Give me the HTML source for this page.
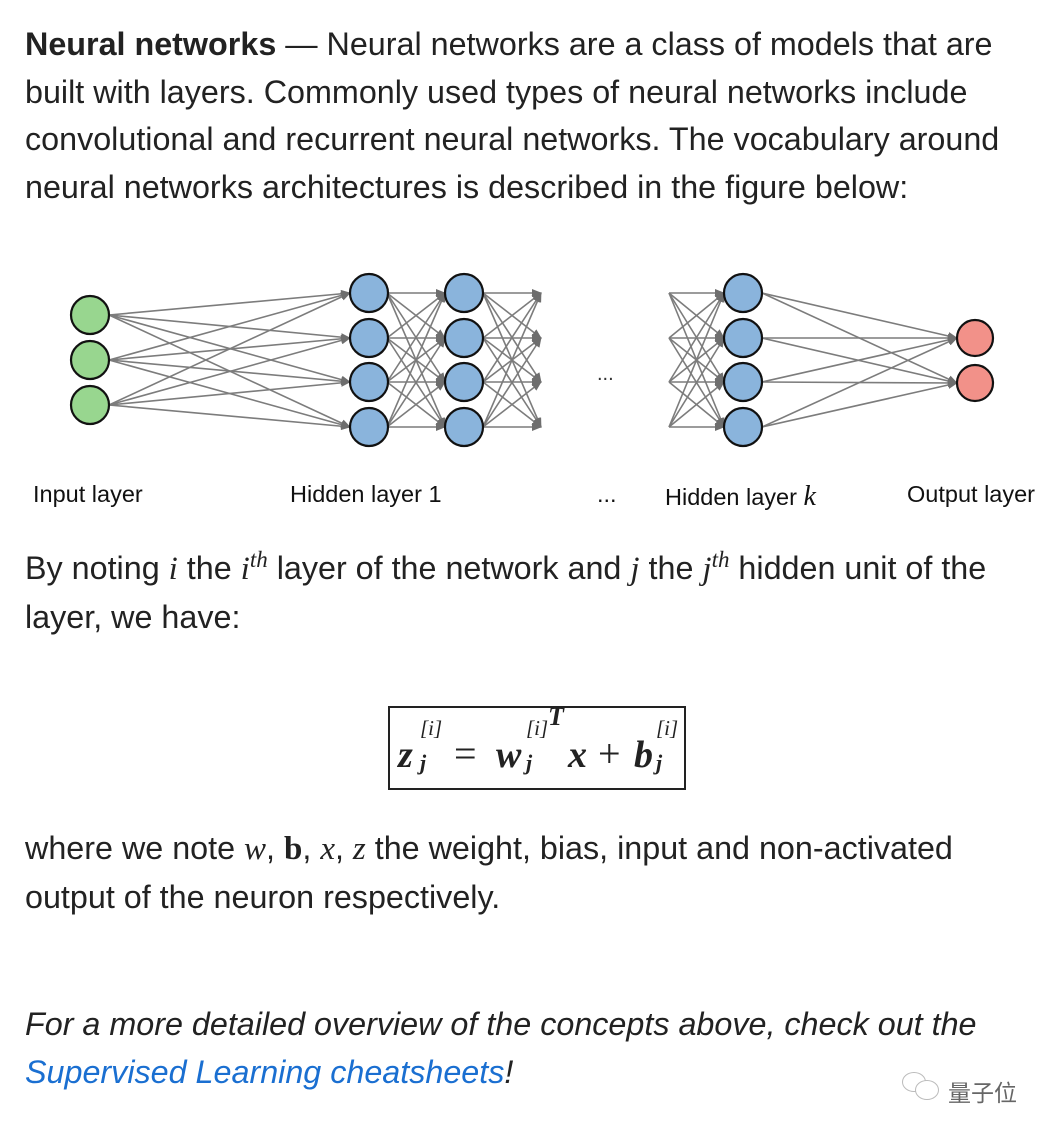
<!DOCTYPE html>
<html><head><meta charset="utf-8"><style>
body{margin:0;background:#fff;width:1060px;height:1138px;position:relative;overflow:hidden;font-family:"Liberation Sans",Arial,sans-serif;color:#222}
.p{position:absolute;left:25px;font-size:32.3px;line-height:47.5px;white-space:nowrap}
.m{font-family:"Liberation Serif",serif;font-style:italic;font-size:33px}
.lbl{position:absolute;font-size:23.5px;top:481px;color:#111}
sup{font-size:23px;line-height:0}
.f span{position:absolute}
</style></head><body>
<div class="p" style="top:21px"><b>Neural networks</b> — Neural networks are a class of models that are<br>built with layers. Commonly used types of neural networks include<br>convolutional and recurrent neural networks. The vocabulary around<br>neural networks architectures is described in the figure below:</div>
<svg id="s" width="1060" height="470" style="position:absolute;left:0;top:0">
<defs><marker id="a" markerWidth="10" markerHeight="8" refX="9" refY="4" orient="auto" markerUnits="userSpaceOnUse"><path d="M0,0L10,4L0,8z" fill="#555"/></marker></defs>
<g id="L" stroke="#666" stroke-width="1.6" opacity="0.85"></g><g id="N" stroke="#111" stroke-width="2.2"></g>
<text x="597" y="380" font-size="20" fill="#333" font-family="Liberation Sans">...</text>
</svg>
<script>
var L=document.getElementById('L'),N=document.getElementById('N'),ns='http://www.w3.org/2000/svg';
function line(x1,y1,x2,y2){var l=document.createElementNS(ns,'line');l.setAttribute('x1',x1);l.setAttribute('y1',y1);l.setAttribute('x2',x2);l.setAttribute('y2',y2);l.setAttribute('marker-end','url(#a)');L.appendChild(l);}
function circ(x,y,r,f){var c=document.createElementNS(ns,'circle');c.setAttribute('cx',x);c.setAttribute('cy',y);c.setAttribute('r',r);c.setAttribute('fill',f);N.appendChild(c);}
var inp=[315,360,405],h=[293,338,382,427],out=[338,383];
inp.forEach(function(a){h.forEach(function(b){line(109,a,350,b);});});
h.forEach(function(a){h.forEach(function(b){line(387,a,445,b);line(483,a,541,b);line(669,a,724,b);});});
h.forEach(function(a){out.forEach(function(b){line(762,a,957,b);});});
inp.forEach(function(y){circ(90,y,19,'#98d68f');});
h.forEach(function(y){circ(369,y,19,'#8ab4dc');circ(464,y,19,'#8ab4dc');circ(743,y,19,'#8ab4dc');});
out.forEach(function(y){circ(975,y,18,'#f29189');});
</script>
<div class="lbl" style="left:33px">Input layer</div>
<div class="lbl" style="left:290px">Hidden layer 1</div>
<div class="lbl" style="left:597px">...</div>
<div class="lbl" style="left:665px">Hidden layer <span class="m" style="font-size:28px">k</span></div>
<div class="lbl" style="left:907px">Output layer</div>
<div class="p" style="top:545px">By noting <span class="m">i</span> the <span class="m">i<sup>th</sup></span> layer of the network and <span class="m">j</span> the <span class="m">j<sup>th</sup></span> hidden unit of the<br>layer, we have:</div>
<div class="f" style="position:absolute;left:388px;top:706px;width:294px;height:80px;border:2px solid #222;font-family:'Liberation Serif',serif;font-size:38px;font-style:italic;font-weight:bold;white-space:nowrap;line-height:1">
<span style="left:8px;top:28px">z</span><span style="left:30px;top:10px;font-size:21px;font-weight:normal">[i]</span><span style="left:30px;top:44px;font-size:22px">j</span>
<span style="left:64px;top:26px;font-style:normal;font-weight:normal;font-size:40px">=</span>
<span style="left:106px;top:28px">w</span><span style="left:136px;top:10px;font-size:21px;font-weight:normal">[i]</span><span style="left:136px;top:44px;font-size:22px">j</span><span style="left:158px;top:-4px;font-size:26px">T</span>
<span style="left:178px;top:28px">x</span>
<span style="left:208px;top:26px;font-style:normal;font-weight:normal;font-size:40px">+</span>
<span style="left:244px;top:28px">b</span><span style="left:266px;top:10px;font-size:21px;font-weight:normal">[i]</span><span style="left:266px;top:44px;font-size:22px">j</span>
</div>
<div class="p" style="top:825px">where we note <span class="m">w</span>, <span class="m" style="font-style:normal;font-weight:bold">b</span>, <span class="m">x</span>, <span class="m">z</span> the weight, bias, input and non-activated<br>output of the neuron respectively.</div>
<div class="p" style="top:1001px;font-style:italic">For a more detailed overview of the concepts above, check out the<br><span style="color:#1a6fd1">Supervised Learning cheatsheets</span>!</div>
<div style="position:absolute;left:902px;top:1072px;width:22px;height:18px;border:1.5px solid #bbb;border-radius:50%"></div>
<div style="position:absolute;left:915px;top:1080px;width:22px;height:18px;border:1.5px solid #bbb;border-radius:50%;background:#fff"></div>
<div style="position:absolute;left:948px;top:1074px;font-size:23px;color:#666;font-family:'Liberation Sans','Noto Sans CJK SC',sans-serif">量子位</div>
</body></html>
